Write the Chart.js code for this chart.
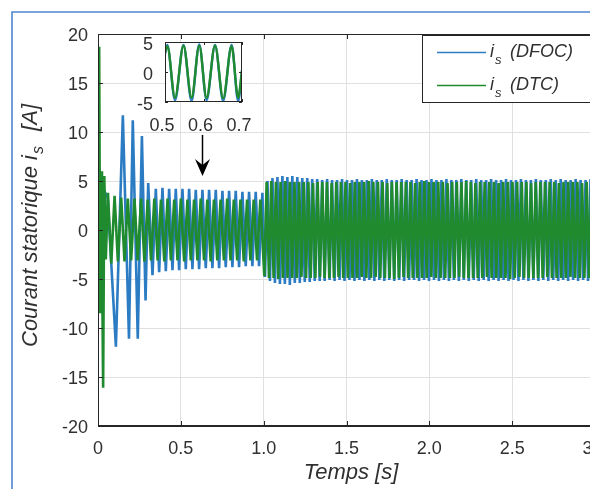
<!DOCTYPE html>
<html>
<head>
<meta charset="utf-8">
<script src="https://cdn.jsdelivr.net/npm/chart.js@4.4.1/dist/chart.umd.min.js"></script>
<style>
  html, body { margin: 0; padding: 0; background: #fff; overflow: hidden; width: 590px; height: 489px; }
  #wrap { position: relative; width: 620px; height: 489px; }
  #main { position: absolute; left: 0; top: 0; width: 620px; height: 489px; }
  #inset { position: absolute; left: 110px; top: 25px; width: 150px; height: 115px; }
</style>
</head>
<body>
<div id="wrap">
  <canvas id="main" width="620" height="489"></canvas>
  <canvas id="inset" width="150" height="115"></canvas>
</div>
<script>
// ---- Stator current i_s [A] versus time [s] ----

// Axis ticks
const timeTicks = [0, 0.5, 1, 1.5, 2, 2.5, 3];
const currentTicks = [-20, -15, -10, -5, 0, 5, 10, 15, 20];
const insetTimeTicks = [0.5, 0.6, 0.7];
const insetCurrentTicks = [-5, 0, 5];

// DFOC: start-up transient, extremes (time s / current A)
const dfocStartT = [0.000, 0.010, 0.032, 0.058, 0.108, 0.150, 0.187, 0.210, 0.240, 0.265, 0.287, 0.303, 0.329];
const dfocStartI = [0.0, 6.0, 4.2, 3.3, -11.9, 11.7, -11.1, 11.2, -11.1, 9.6, -7.2, 4.8, -4.6];

// DFOC: steady state before the load step, successive extremes every half period
const dfocMidStart = 0.349;
const dfocMidStep = 0.0201;
const dfocMidI = [
  4.2, -4.3, 4.3, -4.2, 4.2, -4.1, 4.2, -4.1, 4.2, -4.0, 4.2, -4.0, 4.1, -4.0, 4.1, -3.9,
  4.1, -3.9, 4.1, -3.9, 4.0, -3.8, 4.0, -3.8, 4.0, -3.8, 3.9, -3.7, 3.9, -3.7, 3.9, -3.7, 3.8
];

// DFOC: after the load step at t = 1 s
const dfocHighStart = 1.008;
const dfocHighStep = 0.015;
const dfocHighI = [
  -4.8, 5.0, -5.2, 5.3, -5.4, 5.4, -5.5, 5.5, -5.5, 5.4, -5.6, 5.5, -5.4, 5.4, -5.4, 5.3, -5.3, 5.3, -5.3, 5.2,
  -5.2, 5.2, -5.2, 5.1, -5.2, 5.2, -5.1, 5.1, -5.2, 5.1, -5.1, 5.2, -5.2, 5.1, -5.1, 5.1, -5.2, 5.2, -5.1, 5.1,
  -5.2, 5.1, -5.1, 5.2, -5.2, 5.1, -5.1, 5.1, -5.2, 5.2, -5.1, 5.1, -5.2, 5.1, -5.1, 5.2, -5.2, 5.1, -5.1, 5.1,
  -5.1, 5.2, -5.2, 5.1, -5.1, 5.1, -5.2, 5.2, -5.1, 5.1, -5.2, 5.1, -5.1, 5.2, -5.2, 5.1, -5.1, 5.1, -5.2, 5.2,
  -5.1, 5.1, -5.2, 5.1, -5.1, 5.2, -5.2, 5.1, -5.1, 5.1, -5.2, 5.2, -5.1, 5.1, -5.2, 5.1, -5.1, 5.2, -5.2, 5.1,
  -5.1, 5.1, -5.2, 5.2, -5.1, 5.1, -5.2, 5.1, -5.1, 5.2, -5.2, 5.1, -5.1, 5.1, -5.2, 5.2, -5.1, 5.1, -5.2, 5.2,
  -5.1, 5.1, -5.2, 5.1, -5.1, 5.2, -5.2, 5.1, -5.1, 5.1, -5.2, 5.2, -5.1
];

// DTC: start-up transient
const dtcStartT = [0.000, 0.007, 0.013, 0.019, 0.024, 0.031, 0.038, 0.047];
const dtcStartI = [0.0, 18.7, -8.5, 6.0, -2.0, -16.1, 5.5, -3.0];

// DTC: steady state before the load step
const dtcMidStart = 0.06;
const dtcMidStep = 0.02;
const dtcMidI = [
  3.8, -3.4, 3.5, -3.2, 3.3, -3.2, 3.2, -3.1, 3.2, -3.1, 3.2, -3.2, 3.1, -3.1, 3.2, -3.1,
  3.1, -3.2, 3.2, -3.1, 3.1, -3.1, 3.2, -3.2, 3.1, -3.1, 3.1, -3.1, 3.2, -3.1, 3.1, -3.2,
  3.1, -3.1, 3.1, -3.1, 3.2, -3.1, 3.1, -3.1, 3.1, -3.2, 3.1, -3.1, 3.1, -3.1, 3.1
];

// DTC: after the load step
const dtcHighStart = 1.004;
const dtcHighStep = 0.014;
const dtcHighI = [
  -4.7, 4.9, -4.9, 5.0, -4.9, 4.9, -5.0, 4.9, -4.9, 5.0, -4.9, 4.9, -4.9, 4.9, -4.9, 4.9, -4.8, 4.9, -4.9, 4.9,
  -4.9, 4.8, -4.9, 4.9, -4.8, 4.9, -4.9, 4.9, -4.9, 4.8, -4.9, 4.9, -4.8, 4.9, -4.9, 4.9, -4.9, 4.8, -4.9, 4.9,
  -4.9, 4.9, -4.8, 4.9, -4.9, 5.0, -4.9, 4.9, -4.8, 4.9, -4.9, 4.9, -4.9, 4.8, -4.9, 4.9, -5.0, 4.9, -4.9, 4.9,
  -4.8, 4.9, -4.9, 4.9, -4.9, 4.8, -4.9, 4.9, -4.9, 5.0, -4.9, 4.9, -4.8, 4.9, -4.9, 4.9, -4.9, 4.9, -4.9, 4.8,
  -4.9, 4.9, -4.9, 4.9, -4.8, 4.9, -4.9, 5.0, -4.9, 4.9, -4.9, 4.8, -4.9, 4.9, -4.9, 4.9, -4.8, 4.9, -4.9, 4.9,
  -4.9, 4.8, -4.9, 4.9, -4.9, 4.9, -5.0, 4.9, -4.9, 4.9, -4.8, 4.9, -4.9, 4.9, -4.9, 4.8, -4.9, 4.9, -4.9, 4.9,
  -4.9, 4.9, -4.8, 4.9, -4.9, 4.9, -4.9, 4.8, -4.9, 4.9, -4.9, 4.9, -4.8, 4.9, -4.9, 4.9, -4.9, 4.8, -4.9, 4.9,
  -4.9, 4.9, -4.8
];

// Zoomed window 0.5 s .. 0.7 s
const insetT = [0.500, 0.506, 0.526, 0.548, 0.569, 0.589, 0.608, 0.630, 0.651, 0.673, 0.690, 0.700];
const insetDfocI = [3.0, 4.5, -4.7, 4.5, -4.8, 4.6, -4.7, 4.5, -4.8, 4.5, -4.8, 0.0];
const insetDtcI = [3.2, 4.3, -4.3, 4.4, -4.3, 4.4, -4.3, 4.4, -4.4, 4.3, -4.3, 0.3];

// ---- styling ----
const BLUE = '#2c7cc4';
const GREEN = '#1f8a2e';
const GRID = '#e0e0e0';
const AXIS = '#262626';
const TXT = '#303030';
const FONT = '"Liberation Sans", Arial, Helvetica, sans-serif';

function toPoints(ts, vs) {
  return ts.map((t, i) => ({ x: t, y: vs[i] }));
}
function regularPoints(start, step, vs) {
  return vs.map((v, k) => ({ x: start + k * step, y: v }));
}

const dfocPoints = [
  ...toPoints(dfocStartT, dfocStartI),
  ...regularPoints(dfocMidStart, dfocMidStep, dfocMidI),
  ...regularPoints(dfocHighStart, dfocHighStep, dfocHighI)
];
const dtcPoints = [
  ...toPoints(dtcStartT, dtcStartI),
  ...regularPoints(dtcMidStart, dtcMidStep, dtcMidI),
  ...regularPoints(dtcHighStart, dtcHighStep, dtcHighI)
];

// keep the plot area exactly where the layout padding puts it
function noLabelPadding(s) {
  s.paddingTop = 0; s.paddingBottom = 0; s.paddingLeft = 0; s.paddingRight = 0;
}

// Figure background and frame
const framePlugin = {
  id: 'frame',
  beforeDraw(chart) {
    const ctx = chart.ctx;
    ctx.save();
    ctx.fillStyle = '#fff';
    ctx.fillRect(0, 0, chart.width, chart.height);
    ctx.strokeStyle = '#4f86cf';
    ctx.lineWidth = 1.6;
    ctx.beginPath();
    ctx.moveTo(12, chart.height + 5);
    ctx.lineTo(12, 12);
    ctx.lineTo(chart.width + 5, 12);
    ctx.stroke();
    ctx.restore();
  }
};

// Axes box with inward tick marks
function boxAndTicks(chart, len) {
  const ctx = chart.ctx;
  const { left, right, top, bottom } = chart.chartArea;
  const xs = chart.scales.x, ys = chart.scales.y;
  ctx.save();
  ctx.strokeStyle = AXIS;
  ctx.lineWidth = 1;
  ctx.strokeRect(Math.round(left) + 0.5, Math.round(top) + 0.5, Math.round(right - left) - 1, Math.round(bottom - top) - 1);
  ctx.beginPath();
  xs.ticks.forEach(t => {
    const px = Math.round(xs.getPixelForValue(t.value)) + 0.5;
    ctx.moveTo(px, bottom); ctx.lineTo(px, bottom - len);
    ctx.moveTo(px, top); ctx.lineTo(px, top + len);
  });
  ys.ticks.forEach(t => {
    const py = Math.round(ys.getPixelForValue(t.value)) + 0.5;
    ctx.moveTo(left, py); ctx.lineTo(left + len, py);
    ctx.moveTo(right, py); ctx.lineTo(right - len, py);
  });
  ctx.stroke();
  ctx.restore();
}

const mainDecor = {
  id: 'mainDecor',
  afterDatasetsDraw(chart) {
    boxAndTicks(chart, 5);
    // arrow pointing at the zoomed window
    const ctx = chart.ctx;
    const xs = chart.scales.x, ys = chart.scales.y;
    const ax = Math.round(xs.getPixelForValue(0.628)) + 0.5;
    const yTop = ys.getPixelForValue(9.7);
    const yTip = ys.getPixelForValue(5.5);
    ctx.save();
    ctx.strokeStyle = '#000';
    ctx.fillStyle = '#000';
    ctx.lineWidth = 1.5;
    ctx.beginPath();
    ctx.moveTo(ax, yTop);
    ctx.lineTo(ax, yTip - 10);
    ctx.stroke();
    ctx.beginPath();
    ctx.moveTo(ax, yTip);
    ctx.lineTo(ax - 7.5, yTip - 17);
    ctx.lineTo(ax, yTip - 11);
    ctx.lineTo(ax + 7.5, yTip - 17);
    ctx.closePath();
    ctx.fill();
    ctx.restore();
  },
  afterDraw(chart) {
    const ctx = chart.ctx;
    ctx.save();
    ctx.fillStyle = TXT;
    ctx.textAlign = 'left';
    ctx.textBaseline = 'alphabetic';

    // y title with subscript
    ctx.save();
    ctx.translate(37, 347);
    ctx.rotate(-Math.PI / 2);
    let x = 0;
    ctx.font = 'italic 22px ' + FONT;
    ctx.fillText('Courant statorique i', x, 0);
    x += ctx.measureText('Courant statorique i').width;
    ctx.font = 'italic 16px ' + FONT;
    ctx.fillText('s', x + 1, 6);
    x += ctx.measureText('s').width + 10;
    ctx.font = 'italic 22px ' + FONT;
    ctx.fillText(' [A]', x, 0);
    ctx.restore();

    // x title
    ctx.font = 'italic 22px ' + FONT;
    ctx.textAlign = 'center';
    ctx.fillText('Temps [s]', 351, 479);
    ctx.textAlign = 'left';

    // legend
    ctx.fillStyle = '#fff';
    ctx.fillRect(422.5, 35.5, 200, 67);
    ctx.strokeStyle = AXIS;
    ctx.lineWidth = 1;
    ctx.strokeRect(422.5, 35.5, 200, 67);
    const rows = [
      { name: '(DFOC)', color: BLUE, y: 52 },
      { name: '(DTC)', color: GREEN, y: 85 }
    ];
    rows.forEach(r => {
      ctx.strokeStyle = r.color;
      ctx.lineWidth = 1.5;
      ctx.beginPath();
      ctx.moveTo(437, r.y + 0.5);
      ctx.lineTo(486, r.y + 0.5);
      ctx.stroke();
      ctx.fillStyle = TXT;
      ctx.font = 'italic 18px ' + FONT;
      ctx.fillText('i', 490, r.y + 5);
      ctx.font = 'italic 13px ' + FONT;
      ctx.fillText('s', 495, r.y + 12);
      ctx.font = 'italic 18px ' + FONT;
      ctx.fillText(r.name, 510, r.y + 5);
    });
    ctx.restore();
  }
};

new Chart(document.getElementById('main'), {
  type: 'line',
  data: {
    datasets: [
      { label: 'i_s (DFOC)', data: dfocPoints, borderColor: BLUE, borderWidth: 2.6, pointRadius: 0, tension: 0, order: 1 },
      { label: 'i_s (DTC)', data: dtcPoints, borderColor: GREEN, borderWidth: 2.6, pointRadius: 0, tension: 0, order: 0 }
    ]
  },
  options: {
    responsive: false,
    animation: false,
    devicePixelRatio: 1,
    parsing: false,
    normalized: true,
    layout: { padding: { left: 0, top: 34, right: 25, bottom: 0 } },
    plugins: { legend: { display: false }, tooltip: { enabled: false } },
    scales: {
      x: {
        type: 'linear', min: 0, max: 3,
        afterBuildTicks: s => { s.ticks = timeTicks.map(v => ({ value: v })); },
        afterFit: s => { s.height = 63; noLabelPadding(s); },
        grid: { color: GRID, drawTicks: false },
        border: { color: AXIS, width: 1 },
        ticks: { padding: 12, color: TXT, font: { family: FONT, size: 18 }, maxRotation: 0, autoSkip: false }
      },
      y: {
        type: 'linear', min: -20, max: 20,
        afterBuildTicks: s => { s.ticks = currentTicks.map(v => ({ value: v })); },
        afterFit: s => { s.width = 98; noLabelPadding(s); },
        grid: { color: GRID, drawTicks: false },
        border: { color: AXIS, width: 1 },
        ticks: { padding: 10, labelOffset: 2, color: TXT, font: { family: FONT, size: 18 }, autoSkip: false }
      }
    }
  },
  plugins: [framePlugin, mainDecor]
});

// Zoomed window
const insetDecor = {
  id: 'insetDecor',
  beforeDatasetsDraw(chart) {
    const ctx = chart.ctx;
    const { left, right, top, bottom } = chart.chartArea;
    ctx.save();
    ctx.fillStyle = '#fff';
    ctx.fillRect(left, top, right - left, bottom - top);
    ctx.restore();
  },
  afterDatasetsDraw(chart) {
    boxAndTicks(chart, 3);
  }
};

new Chart(document.getElementById('inset'), {
  type: 'line',
  data: {
    datasets: [
      { label: 'DFOC', data: toPoints(insetT, insetDfocI), borderColor: BLUE, borderWidth: 2.4, pointRadius: 0, cubicInterpolationMode: 'monotone', order: 1 },
      { label: 'DTC', data: toPoints(insetT, insetDtcI), borderColor: GREEN, borderWidth: 2.4, pointRadius: 0, cubicInterpolationMode: 'monotone', order: 0 }
    ]
  },
  options: {
    responsive: false,
    animation: false,
    devicePixelRatio: 1,
    parsing: false,
    layout: { padding: { left: 0, top: 17, right: 18, bottom: 0 } },
    plugins: { legend: { display: false }, tooltip: { enabled: false } },
    scales: {
      x: {
        type: 'linear', min: 0.5, max: 0.7,
        afterBuildTicks: s => { s.ticks = insetTimeTicks.map(v => ({ value: v })); },
        afterFit: s => { s.height = 38; noLabelPadding(s); },
        grid: { display: false, drawTicks: false },
        border: { display: false },
        ticks: { padding: 13, labelOffset: -3, color: TXT, font: { family: FONT, size: 18 }, maxRotation: 0, autoSkip: false }
      },
      y: {
        type: 'linear', min: -5, max: 5,
        afterBuildTicks: s => { s.ticks = insetCurrentTicks.map(v => ({ value: v })); },
        afterFit: s => { s.width = 55; noLabelPadding(s); },
        grid: { display: false, drawTicks: false },
        border: { display: false },
        ticks: { padding: 12, labelOffset: 3, color: TXT, font: { family: FONT, size: 18 }, autoSkip: false }
      }
    }
  },
  plugins: [insetDecor]
});
</script>
</body>
</html>
